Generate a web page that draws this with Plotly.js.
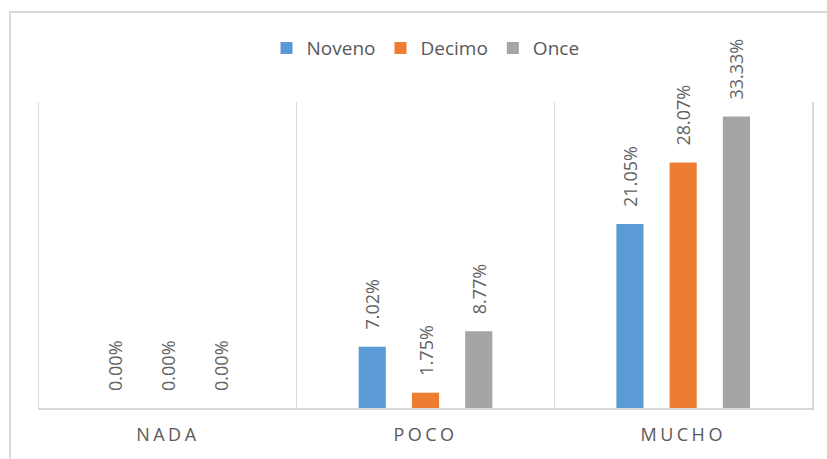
<!DOCTYPE html>
<html>
<head>
<meta charset="utf-8">
<script src="https://cdn.plot.ly/plotly-3.0.1.min.js"></script>
<style>
  html, body { margin: 0; padding: 0; background: #fff; }
  #wrap { position: relative; width: 827px; height: 459px; overflow: hidden; }
  #chart { width: 827px; height: 459px; }
  #frame { position: absolute; left: 9px; top: 11px; width: 900px; height: 500px;
           border-left: 2px solid #d9d9d9; border-top: 2px solid #d9d9d9; pointer-events: none; }
  .xtick text { letter-spacing: 3.5px; }
</style>
</head>
<body>
<div id="wrap">
  <div id="chart"></div>
  <div id="frame"></div>
</div>
<script>
const categories = ["NADA", "POCO", "MUCHO"];
const seriesNames = ["Noveno", "Decimo", "Once"];
const noveno = [0.00, 7.02, 21.05];
const decimo = [0.00, 1.75, 28.07];
const once = [0.00, 8.77, 33.33];
const colors = ["#5b9bd5", "#ed7d31", "#a5a5a5"];

const values = [noveno, decimo, once];
const pad = "\u00a0\u00a0\u00a0";

const traces = values.map((v, i) => ({
  type: "bar",
  name: seriesNames[i],
  x: categories,
  y: v,
  marker: { color: colors[i] },
  texttemplate: pad + "%{y:.2f}%",
  textposition: "outside",
  textangle: -90,
  constraintext: "none",
  cliponaxis: false,
  textfont: { family: "Open Sans, sans-serif", size: 18, color: "#636363" },
  hoverinfo: "skip"
}));

const layout = {
  width: 827,
  height: 459,
  margin: { l: 39, r: 15, t: 102, b: 51 },
  paper_bgcolor: "#ffffff",
  plot_bgcolor: "#ffffff",
  barmode: "group",
  bargap: 0.38,
  bargroupgap: 0.49,
  showlegend: true,
  legend: {
    orientation: "h",
    x: 0.5, xanchor: "center",
    y: 1.176, yanchor: "middle",
    font: { family: "Open Sans, sans-serif", size: 19, color: "#595959" },
    bgcolor: "rgba(0,0,0,0)"
  },
  xaxis: {
    type: "category",
    range: [-0.5, 2.5],
    tickson: "boundaries",
    showgrid: true,
    gridcolor: "#d9d9d9",
    gridwidth: 1.5,
    showline: true,
    linecolor: "#d9d9d9",
    linewidth: 1.5,
    ticks: "",
    ticklabelstandoff: 10,
    tickfont: { family: "Open Sans, sans-serif", size: 18, color: "#595959" },
    fixedrange: true
  },
  yaxis: {
    range: [0, 35],
    showgrid: false,
    zeroline: false,
    showticklabels: false,
    ticks: "",
    showline: true,
    mirror: true,
    linecolor: "#d9d9d9",
    linewidth: 1.5,
    fixedrange: true
  }
};

Plotly.newPlot("chart", traces, layout, { displayModeBar: false, staticPlot: true });
</script>
</body>
</html>
